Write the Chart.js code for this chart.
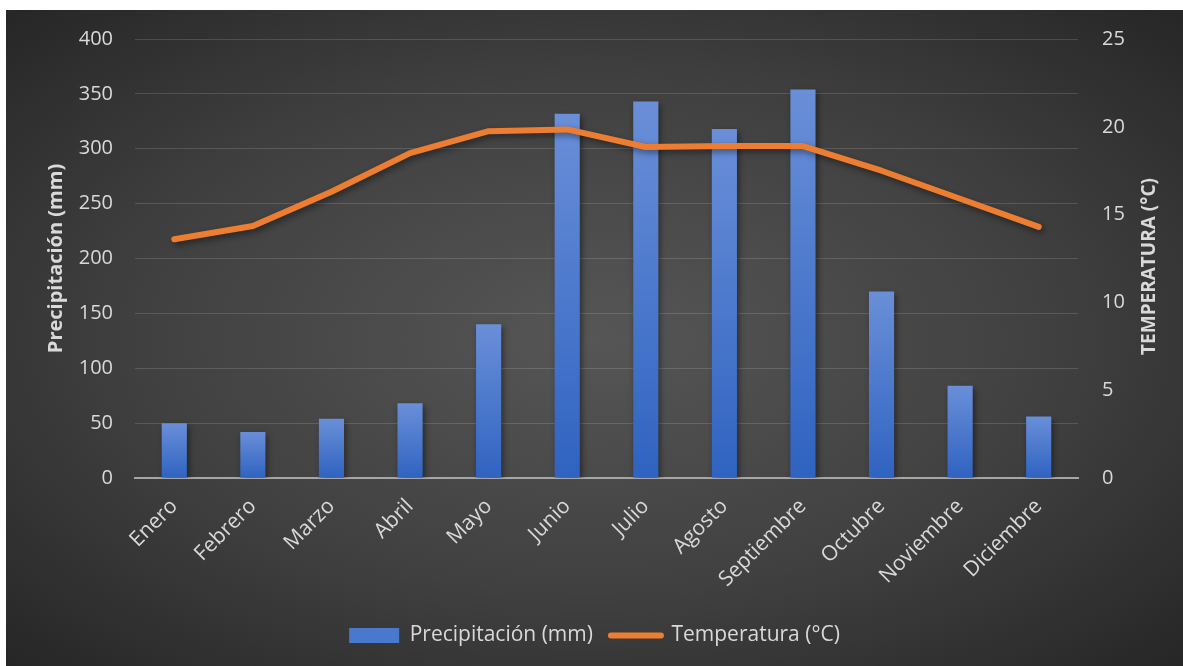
<!DOCTYPE html>
<html>
<head>
<meta charset="utf-8">
<script src="https://cdn.jsdelivr.net/npm/chart.js@4.4.1/dist/chart.umd.min.js"></script>
<style>
  html, body { margin: 0; padding: 0; background: #ffffff; }
  #box {
    position: absolute; left: 6px; top: 10px; width: 1177px; height: 656px;
    background: radial-gradient(ellipse at 50% 50%, #565656 0%, #404040 55%, #262626 100%);
  }
</style>
</head>
<body>
<div id="box"><canvas id="climaChart"></canvas></div>
<script>
// datos del climograma
var meses = ['Enero', 'Febrero', 'Marzo', 'Abril', 'Mayo', 'Junio', 'Julio',
             'Agosto', 'Septiembre', 'Octubre', 'Noviembre', 'Diciembre'];
var precipitacion = [50, 42, 54, 68, 140, 332, 343, 318, 354, 170, 84, 56];
var temperatura = [13.6, 14.35, 16.3, 18.5, 19.75, 19.85, 18.85, 18.9, 18.9, 17.5, 15.9, 14.3];
var ticksPrec = [0, 50, 100, 150, 200, 250, 300, 350, 400];
var ticksTemp = [0, 5, 10, 15, 20, 25];

var textColor = '#d9d9d9';
var fontName = '"Open Sans", "Noto Sans", sans-serif';

// gradiente vertical por barra
function barGradient(ctx) {
    var chart = ctx.chart;
    var y = chart.scales && chart.scales.y;
    if (!chart.chartArea || !y || ctx.parsed === undefined) return '#4472c4';
    var top = y.getPixelForValue(ctx.parsed.y);
    var bottom = y.getPixelForValue(0);
    if (!isFinite(top) || bottom - top < 1) return '#2f63c1';
    var g = chart.ctx.createLinearGradient(0, top, 0, bottom);
    g.addColorStop(0, '#6a8fd8');
    g.addColorStop(1, '#2f63c1');
    return g;
}

// sombra suave bajo barras y linea
var shadowPlugin = {
    id: 'shadow',
    beforeDatasetDraw: function(chart) {
        var c = chart.ctx;
        c.save();
        c.shadowColor = 'rgba(0,0,0,0.45)';
        c.shadowBlur = 6;
        c.shadowOffsetX = 2;
        c.shadowOffsetY = 3;
    },
    afterDatasetDraw: function(chart) {
        chart.ctx.restore();
    }
};

// titulo del eje derecho, leido de abajo hacia arriba
var rightTitlePlugin = {
    id: 'rightTitle',
    afterDraw: function(chart) {
        var c = chart.ctx;
        var area = chart.chartArea;
        c.save();
        c.translate(chart.width - 33, (area.top + area.bottom) / 2 + 8);
        c.rotate(-Math.PI / 2);
        c.fillStyle = textColor;
        c.font = 'bold 19px ' + fontName;
        c.textAlign = 'center';
        c.textBaseline = 'middle';
        c.fillText('TEMPERATURA (°C)', 0, 0);
        c.restore();
    }
};

Chart.defaults.font.family = fontName;
Chart.defaults.color = textColor;

var chart = new Chart(document.getElementById('climaChart'), {
    data: {
        labels: meses,
        datasets: [{
            type: 'bar',
            label: 'Precipitación (mm)',
            data: precipitacion,
            yAxisID: 'y',
            backgroundColor: barGradient,
            barPercentage: 0.32,
            categoryPercentage: 1.0,
            order: 2
        }, {
            type: 'line',
            label: 'Temperatura (°C)',
            data: temperatura,
            yAxisID: 'y1',
            borderColor: '#ed7d31',
            backgroundColor: '#ed7d31',
            borderWidth: 6,
            borderCapStyle: 'round',
            borderJoinStyle: 'round',
            pointRadius: 0,
            tension: 0,
            order: 1
        }]
    },
    options: {
        responsive: true,
        maintainAspectRatio: false,
        animation: false,
        layout: { padding: { top: 29, bottom: 10, left: 0, right: 0 } },
        plugins: {
            tooltip: { enabled: false },
            legend: {
                position: 'bottom',
                labels: {
                    color: textColor,
                    font: { size: 21 },
                    usePointStyle: true,
                    pointStyleWidth: 50,
                    boxHeight: 15,
                    padding: 18,
                    generateLabels: function(ch) {
                        return [{
                            text: 'Precipitación (mm)',
                            pointStyle: 'rect',
                            fillStyle: '#4a78cc',
                            strokeStyle: '#4a78cc',
                            lineWidth: 0,
                            fontColor: textColor,
                            datasetIndex: 0
                        }, {
                            text: 'Temperatura (°C)',
                            pointStyle: 'line',
                            fillStyle: '#ed7d31',
                            strokeStyle: '#ed7d31',
                            lineWidth: 6,
                            lineCap: 'round',
                            fontColor: textColor,
                            datasetIndex: 1
                        }];
                    }
                }
            }
        },
        scales: {
            x: {
                grid: { display: false, drawTicks: false },
                border: { display: true, color: '#a6a6a6', width: 2 },
                ticks: {
                    color: textColor,
                    font: { size: 21 },
                    maxRotation: 45,
                    minRotation: 45,
                    padding: 16
                },
                afterFit: function(s) { s.height = 129; }
            },
            y: {
                position: 'left',
                min: 0,
                max: 400,
                afterBuildTicks: function(s) {
                    s.ticks = ticksPrec.map(function(v) { return { value: v }; });
                },
                grid: {
                    color: 'rgba(255,255,255,0.14)', lineWidth: 1,
                    drawTicks: true, tickLength: 18, tickColor: 'rgba(0,0,0,0)'
                },
                border: { display: false },
                ticks: { color: textColor, font: { size: 20 }, padding: 4 },
                title: {
                    display: true,
                    text: 'Precipitación (mm)',
                    color: textColor,
                    font: { size: 20, weight: 'bold' },
                    padding: { top: 38, bottom: 0 }
                },
                afterFit: function(s) { s.width = 129; }
            },
            y1: {
                position: 'right',
                min: 0,
                max: 25,
                afterBuildTicks: function(s) {
                    s.ticks = ticksTemp.map(function(v) { return { value: v }; });
                },
                grid: { display: false, drawTicks: true, tickLength: 20, tickColor: 'rgba(0,0,0,0)' },
                border: { display: false },
                ticks: { color: textColor, font: { size: 20 }, padding: 4 },
                afterFit: function(s) { s.width = 105; }
            }
        }
    },
    plugins: [shadowPlugin, rightTitlePlugin]
});
</script>
</body>
</html>
